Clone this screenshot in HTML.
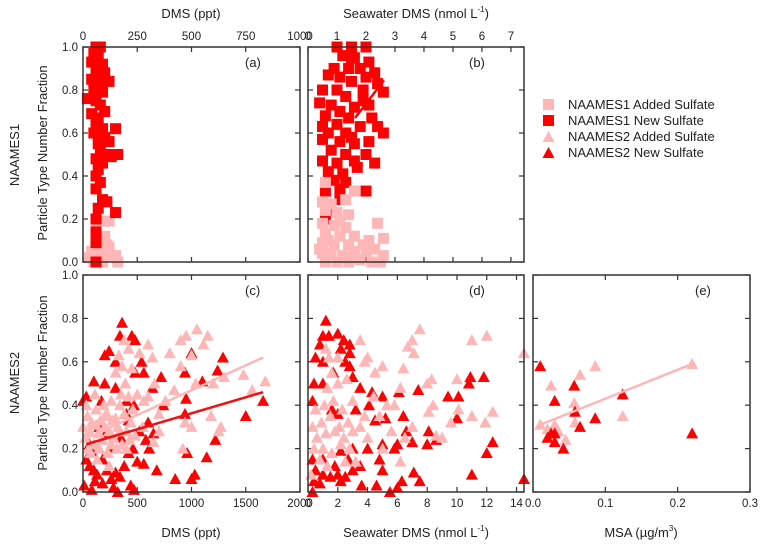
<!DOCTYPE html>
<html><head><meta charset="utf-8"><style>
html,body{margin:0;padding:0;background:#fff;}
svg{display:block;font-family:"Liberation Sans",sans-serif;}
</style></head><body>
<svg id="chart" width="760" height="548" viewBox="0 0 760 548" xmlns="http://www.w3.org/2000/svg">
<text x="0" y="0" transform="translate(19,155) rotate(-90)" text-anchor="middle" font-size="13" fill="#222">NAAMES1</text>
<text x="0" y="0" transform="translate(19,383) rotate(-90)" text-anchor="middle" font-size="13" fill="#222">NAAMES2</text>
<text x="0" y="0" transform="translate(47,153) rotate(-90)" text-anchor="middle" font-size="13" fill="#222">Particle Type Number Fraction</text>
<text x="0" y="0" transform="translate(47,383) rotate(-90)" text-anchor="middle" font-size="13" fill="#222">Particle Type Number Fraction</text>
<text x="191" y="18" text-anchor="middle" font-size="13" fill="#222">DMS (ppt)</text>
<text x="416" y="18" text-anchor="middle" font-size="13" fill="#222">Seawater DMS (nmol L<tspan dy="-6" font-size="8">-1</tspan><tspan dy="6">)</tspan></text>
<text x="191" y="537" text-anchor="middle" font-size="13" fill="#222">DMS (ppt)</text>
<text x="416" y="537" text-anchor="middle" font-size="13" fill="#222">Seawater DMS (nmol L<tspan dy="-6" font-size="8">-1</tspan><tspan dy="6">)</tspan></text>
<text x="641" y="537" text-anchor="middle" font-size="13" fill="#222">MSA (µg/m<tspan dy="-6" font-size="8">3</tspan><tspan dy="6">)</tspan></text>
<g>
<rect x="543" y="99" width="11" height="11" fill="#ffb6b6"/>
<text x="568" y="109" font-size="13" fill="#222">NAAMES1 Added Sulfate</text>
<rect x="543" y="115" width="11" height="11" fill="#ff0000"/>
<text x="568" y="125" font-size="13" fill="#222">NAAMES1 New Sulfate</text>
<polygon points="548.5,131 554.5,142 542.5,142" fill="#ffb6b6"/>
<text x="568" y="141" font-size="13" fill="#222">NAAMES2 Added Sulfate</text>
<polygon points="548.5,147 554.5,158 542.5,158" fill="#ff0000"/>
<text x="568" y="157" font-size="13" fill="#222">NAAMES2 New Sulfate</text>
</g>
</svg>
<script>
const aNew=[[60,1.0],[80,1.0],[50,0.97],[70,0.95],[40,0.93],[90,0.92],[60,0.9],[100,0.88],[70,0.86],[40,0.85],[120,0.84],[80,0.82],[50,0.8],[90,0.79],[20,0.76],[60,0.75],[80,0.73],[100,0.7],[40,0.69],[70,0.67],[60,0.64],[90,0.62],[150,0.62],[50,0.6],[100,0.58],[120,0.56],[70,0.55],[80,0.52],[110,0.5],[160,0.5],[60,0.48],[130,0.49],[90,0.46],[70,0.43],[60,0.4],[80,0.37],[60,0.34],[90,0.29],[110,0.28],[70,0.25],[150,0.23],[60,0.2],[60,0.14],[60,0.09],[60,0.0]];
const aAdded=[[90,0.19],[120,0.19],[60,0.16],[100,0.12],[80,0.1],[120,0.07],[40,0.05],[70,0.04],[100,0.03],[150,0.03],[30,0.02],[90,0.0],[50,0.0],[160,0.0],[110,0.08],[60,0.06]];
const bNew=[[1.0,1.0],[1.5,1.0],[2.0,1.0],[1.2,0.96],[1.6,0.95],[2.1,0.93],[1.4,0.9],[1.8,0.9],[2.3,0.88],[0.7,0.87],[1.1,0.86],[2.0,0.86],[1.5,0.84],[2.4,0.83],[0.5,0.8],[1.0,0.8],[1.9,0.8],[2.6,0.79],[1.3,0.77],[0.4,0.74],[0.8,0.73],[1.6,0.72],[2.1,0.73],[1.1,0.7],[0.6,0.68],[1.4,0.67],[2.2,0.67],[0.5,0.63],[1.0,0.64],[1.8,0.63],[2.4,0.63],[0.7,0.6],[1.3,0.6],[2.6,0.6],[0.5,0.57],[1.1,0.56],[2.1,0.56],[1.6,0.55],[0.8,0.52],[1.3,0.5],[2.0,0.5],[0.5,0.47],[1.0,0.46],[1.6,0.47],[2.3,0.46],[0.7,0.42],[1.2,0.41],[0.9,0.38],[1.3,0.37],[0.6,0.33],[1.1,0.34],[2.0,0.33],[1.1,0.29],[0.7,0.24],[0.6,0.2],[1.5,0.95],[1.9,0.75],[0.9,0.9],[1.5,0.58],[1.7,0.44]];
const bAdded=[[0.6,0.37],[1.6,0.33],[0.5,0.28],[0.8,0.27],[1.3,0.29],[0.6,0.24],[1.0,0.23],[1.4,0.22],[0.5,0.18],[0.9,0.17],[1.3,0.16],[2.4,0.18],[0.6,0.13],[1.1,0.12],[1.6,0.12],[2.6,0.11],[0.5,0.09],[0.9,0.08],[1.4,0.08],[1.9,0.08],[2.3,0.06],[0.5,0.04],[0.8,0.04],[1.2,0.03],[1.6,0.05],[2.0,0.05],[2.6,0.03],[0.6,0.0],[1.0,0.0],[1.4,0.0],[1.8,0.01],[2.2,0.0],[2.5,0.0],[0.4,0.06],[1.1,0.19],[0.7,0.1],[1.5,0.02],[2.1,0.1]];
const cNew=[[360,0.78],[450,0.72],[480,0.7],[340,0.72],[200,0.63],[240,0.65],[300,0.6],[540,0.6],[560,0.55],[480,0.55],[100,0.51],[200,0.5],[300,0.48],[640,0.48],[720,0.53],[30,0.44],[0,0.42],[170,0.42],[400,0.42],[740,0.4],[940,0.55],[1000,0.64],[950,0.43],[940,0.36],[1100,0.51],[1240,0.56],[1290,0.62],[1500,0.35],[1660,0.42],[1220,0.24],[1140,0.16],[960,0.18],[850,0.06],[1030,0.08],[1000,0.06],[600,0.32],[520,0.28],[420,0.33],[650,0.27],[30,0.15],[60,0.12],[100,0.1],[130,0.08],[180,0.15],[220,0.1],[260,0.06],[300,0.09],[340,0.07],[380,0.12],[420,0.18],[460,0.2],[500,0.14],[560,0.13],[610,0.2],[680,0.1],[10,0.03],[80,0.01],[110,0.05],[180,0.04],[280,0.02],[320,0.0],[440,0.03],[470,0.01],[60,0.22],[250,0.2],[350,0.25],[150,0.3],[400,0.36],[580,0.24],[90,0.18],[210,0.27],[470,0.4]];
const cAdded=[[0,0.3],[20,0.25],[40,0.35],[60,0.28],[80,0.32],[100,0.22],[120,0.38],[140,0.27],[160,0.33],[180,0.24],[200,0.3],[220,0.36],[240,0.28],[260,0.42],[280,0.25],[300,0.34],[320,0.3],[340,0.4],[360,0.22],[380,0.36],[400,0.28],[420,0.44],[440,0.32],[460,0.38],[480,0.26],[500,0.45],[30,0.4],[70,0.18],[110,0.45],[150,0.2],[190,0.4],[230,0.18],[270,0.33],[310,0.2],[350,0.45],[390,0.5],[430,0.24],[300,0.55],[330,0.63],[380,0.7],[420,0.66],[360,0.58],[450,0.57],[520,0.64],[600,0.68],[640,0.62],[660,0.5],[560,0.42],[600,0.44],[700,0.36],[760,0.42],[700,0.28],[650,0.23],[900,0.7],[950,0.72],[1050,0.75],[1110,0.68],[1150,0.72],[1000,0.63],[900,0.58],[1040,0.5],[1200,0.5],[1300,0.53],[1250,0.28],[1270,0.3],[1180,0.35],[940,0.32],[1000,0.3],[920,0.2],[1480,0.54],[1560,0.47],[1680,0.51],[800,0.64],[840,0.47],[550,0.3],[50,0.2],[130,0.15],[240,0.12],[120,0.31],[200,0.35],[260,0.22],[340,0.28],[400,0.2]];
const dNew=[[1.2,0.79],[1.0,0.72],[1.4,0.72],[2.0,0.73],[2.4,0.7],[2.8,0.68],[0.8,0.68],[2.2,0.66],[2.8,0.64],[0.5,0.62],[1.0,0.6],[2.5,0.6],[2.8,0.58],[1.7,0.55],[3.0,0.53],[0.4,0.5],[1.0,0.5],[3.5,0.48],[4.3,0.46],[5.0,0.44],[6.1,0.46],[7.4,0.47],[9.4,0.44],[10.1,0.44],[10.8,0.5],[11.8,0.53],[10.9,0.53],[0.3,0.42],[1.6,0.38],[3.2,0.38],[4.1,0.4],[2.0,0.36],[4.5,0.33],[5.2,0.34],[6.4,0.35],[10.0,0.34],[8.1,0.28],[6.6,0.28],[8.6,0.24],[8.0,0.22],[7.0,0.23],[6.0,0.22],[12.4,0.23],[12.0,0.18],[5.0,0.22],[4.0,0.2],[3.0,0.2],[2.2,0.19],[1.0,0.15],[0.3,0.15],[0.5,0.1],[1.0,0.08],[1.5,0.07],[2.0,0.08],[2.5,0.07],[3.0,0.1],[3.5,0.12],[0.4,0.05],[0.8,0.04],[2.2,0.05],[5.0,0.1],[4.6,0.03],[5.5,0.0],[6.0,0.02],[6.3,0.05],[7.1,0.09],[7.5,0.05],[3.6,0.03],[11.0,0.08],[14.5,0.06],[0.3,0.0],[1.8,0.12],[2.7,0.15],[4.8,0.15],[5.8,0.2]];
const dAdded=[[0.3,0.3],[0.6,0.25],[0.9,0.32],[1.2,0.27],[1.5,0.35],[1.8,0.28],[2.1,0.3],[2.4,0.25],[2.7,0.32],[3.0,0.28],[0.5,0.38],[1.1,0.4],[1.7,0.42],[2.3,0.38],[0.4,0.2],[1.0,0.2],[1.6,0.18],[2.2,0.22],[2.8,0.2],[1.2,0.66],[1.4,0.62],[1.6,0.55],[1.3,0.48],[2.0,0.5],[2.6,0.52],[3.5,0.7],[4.0,0.62],[3.8,0.6],[5.0,0.58],[4.5,0.55],[6.4,0.57],[6.7,0.67],[7.1,0.64],[7.5,0.75],[7.0,0.7],[8.0,0.5],[8.3,0.52],[6.2,0.48],[5.3,0.4],[4.4,0.44],[3.8,0.35],[3.5,0.3],[4.8,0.35],[5.6,0.28],[6.5,0.25],[7.0,0.3],[8.1,0.37],[8.4,0.4],[8.6,0.26],[9.0,0.25],[9.6,0.32],[10.0,0.52],[10.1,0.38],[11.0,0.7],[12.0,0.72],[11.0,0.35],[11.9,0.32],[12.4,0.37],[14.5,0.64],[5.0,0.2],[6.2,0.14],[3.2,0.14],[2.5,0.14],[0.8,0.15],[0.2,0.08],[1.3,0.12],[4.0,0.25],[3.0,0.42],[2.0,0.62],[5.8,0.4]];
const eNew=[[0.01,0.58],[0.03,0.42],[0.057,0.49],[0.058,0.37],[0.065,0.3],[0.086,0.34],[0.124,0.45],[0.22,0.27],[0.02,0.25],[0.025,0.27],[0.03,0.23],[0.03,0.27],[0.042,0.2]];
const eAdded=[[0.01,0.31],[0.025,0.49],[0.03,0.31],[0.02,0.29],[0.045,0.24],[0.057,0.41],[0.058,0.32],[0.065,0.54],[0.086,0.58],[0.124,0.35],[0.22,0.59],[0.035,0.28]];
const bFit=[[1.62,0.67],[2.62,0.845]];
const cFitAdded=[[0,0.24],[1660,0.62]];
const cFitNew=[[30,0.22],[1660,0.46]];
const eFitAdded=[[0.01,0.31],[0.22,0.59]];
const yTicks=[0,0.2,0.4,0.6,0.8,1.0];
const aTicks=[0,250,500,750,1000];
const bTicks=[0,1,2,3,4,5,6,7];
const cTicks=[0,500,1000,1500,2000];
const dTicks=[0,2,4,6,8,10,12,14];
const eTicks=[0,0.1,0.2,0.3];

const NS="http://www.w3.org/2000/svg";
const svg=document.getElementById('chart');
const RED="#ff0000", PINK="#ffb6b6";
function mk(tag,attrs,parent){const e=document.createElementNS(NS,tag);for(const k in attrs)e.setAttribute(k,attrs[k]);(parent||svg).appendChild(e);return e;}
function panel(id,L,R,T,B,xmin,xmax,ticks,tickFmt,labelTop,showY){
  const g=mk('g',{});
  
  
  const sx=v=>L+(v-xmin)/(xmax-xmin)*(R-L);
  const sy=v=>B-v*(B-T);
  const p={g,sx,sy,L,R,T,B};
  const tg=mk('g',{stroke:'#333','stroke-width':1.2},g);
  
  
  yTicks.forEach(v=>{mk('line',{x1:L,x2:L+5,y1:sy(v),y2:sy(v)},tg);mk('line',{x1:R,x2:R-5,y1:sy(v),y2:sy(v)},tg);});
  ticks.forEach(v=>{mk('line',{x1:sx(v),x2:sx(v),y1:T,y2:T+5},tg);mk('line',{x1:sx(v),x2:sx(v),y1:B,y2:B-5},tg);});
  ticks.forEach(v=>{const t=mk('text',{x:sx(v),y:labelTop?(T-7):(B+15),'text-anchor':'middle','font-size':11.5,fill:'#222'},g);
    
    
    t.textContent=tickFmt(v);});
  if(showY){yTicks.forEach(v=>{const t=mk('text',{x:L-5,y:sy(v)+4,'text-anchor':'end','font-size':11.5,fill:'#222'},g);
    
    
    t.textContent=v.toFixed(1);});}
  const lab=mk('text',{x:R-55,y:T+20,'font-size':13,fill:'#222'},g);
  
  
  lab.textContent='('+id+')';
  return p;
}
function squares(p,data,color,name){data.forEach(d=>{const r=mk('rect',{x:p.sx(d[0])-5.5,y:p.sy(d[1])-5.5,width:11,height:11,fill:color},p.g);
  
  });}
function tris(p,data,color,name){data.forEach(d=>{const x=p.sx(d[0]),y=p.sy(d[1]);const t=mk('polygon',{points:`${x},${y-6} ${x+6},${y+5} ${x-6},${y+5}`,fill:color},p.g);
  
  });}
function fit(p,d,color,name){const l=mk('line',{x1:p.sx(d[0][0]),y1:p.sy(d[0][1]),x2:p.sx(d[1][0]),y2:p.sy(d[1][1]),stroke:color,'stroke-width':2.5},p.g);
  
  }
function frame(p){const f=mk('rect',{x:p.L,y:p.T,width:p.R-p.L,height:p.B-p.T,fill:'none',stroke:'#333','stroke-width':1.5},p.g);
  
  }

const pa=panel('a',83,300,47,262,0,1000,aTicks,v=>String(v),true,true);
squares(pa,aAdded,PINK,'point-n1-added');squares(pa,aNew,RED,'point-n1-new');frame(pa);
const pb=panel('b',308,524,47,262,0,7.45,bTicks,v=>String(v),true,false);
squares(pb,bNew,RED,'point-n1-new');squares(pb,bAdded,PINK,'point-n1-added');fit(pb,bFit,RED,'fit-line-n1-new');frame(pb);
const pc=panel('c',83,300,275,492,0,2000,cTicks,v=>String(v),false,true);
tris(pc,cNew,RED,'point-n2-new');tris(pc,cAdded,PINK,'point-n2-added');fit(pc,cFitAdded,PINK,'fit-line-n2-added');fit(pc,cFitNew,'#ee1111','fit-line-n2-new');frame(pc);
const pd=panel('d',308,524,275,492,0,14.5,dTicks,v=>String(v),false,false);
tris(pd,dNew,RED,'point-n2-new');tris(pd,dAdded,PINK,'point-n2-added');frame(pd);
const pe=panel('e',533,750,275,492,0,0.3,eTicks,v=>v.toFixed(1),false,false);
tris(pe,eAdded,PINK,'point-n2-added');tris(pe,eNew,RED,'point-n2-new');fit(pe,eFitAdded,PINK,'fit-line-n2-added');frame(pe);
</script>
</body></html>
